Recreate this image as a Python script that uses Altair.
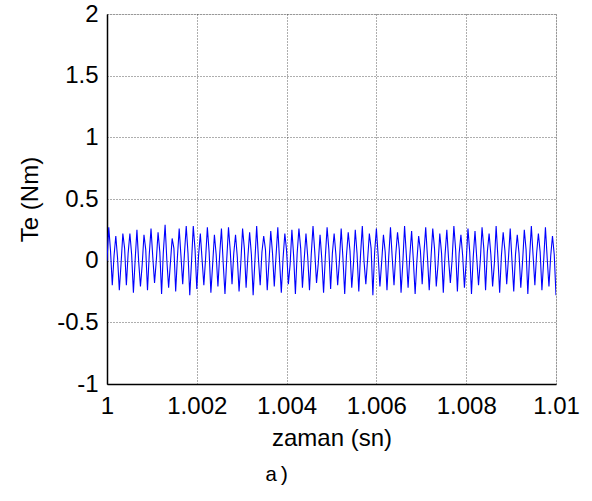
import altair as alt
import pandas as pd

# Values: one entry per oscillation cycle (64 cycles in 0.01 s)
peaks = [0.27, 0.20, 0.22, 0.22, 0.25, 0.21, 0.26, 0.23, 0.29, 0.18, 0.26, 0.28, 0.28, 0.22, 0.27, 0.21,
         0.26, 0.27, 0.21, 0.26, 0.23, 0.28, 0.20, 0.24, 0.27, 0.22, 0.25, 0.26, 0.22, 0.28, 0.21, 0.27,
         0.22, 0.26, 0.23, 0.25, 0.28, 0.22, 0.26, 0.21, 0.27, 0.23, 0.28, 0.24, 0.20, 0.27, 0.26, 0.22,
         0.25, 0.28, 0.21, 0.26, 0.24, 0.27, 0.22, 0.28, 0.23, 0.26, 0.21, 0.25, 0.28, 0.22, 0.27, 0.20]
troughs = [-0.20, -0.24, -0.20, -0.26, -0.21, -0.24, -0.18, -0.27, -0.22, -0.25, -0.19, -0.28, -0.23, -0.20, -0.26, -0.21,
           -0.27, -0.19, -0.25, -0.22, -0.28, -0.20, -0.24, -0.21, -0.26, -0.19, -0.27, -0.22, -0.24, -0.18, -0.26, -0.23,
           -0.20, -0.27, -0.22, -0.25, -0.19, -0.28, -0.21, -0.24, -0.20, -0.26, -0.22, -0.27, -0.19, -0.24, -0.21, -0.26,
           -0.18, -0.25, -0.22, -0.27, -0.20, -0.24, -0.21, -0.26, -0.19, -0.25, -0.22, -0.27, -0.20, -0.24, -0.21, -0.28]
rise_mid = [0.00, 0.04, -0.02, 0.06, 0.01, -0.03, 0.05, 0.00, 0.07, -0.02, 0.03, 0.06, -0.01, 0.04, 0.02, -0.03,
            0.05, 0.01, 0.06, -0.02, 0.03, 0.00, 0.07, -0.01, 0.04, 0.02, -0.03, 0.06, 0.01, 0.05, -0.02, 0.03,
            0.06, 0.00, 0.04, -0.02, 0.05, 0.01, 0.07, -0.01, 0.03, 0.05, -0.02, 0.04, 0.00, 0.06, 0.02, -0.03,
            0.05, 0.01, 0.06, -0.01, 0.03, 0.00, 0.07, -0.02, 0.04, 0.02, 0.05, -0.01, 0.03, 0.06, 0.00, 0.04]
fall_mid = [0.08, 0.02, 0.10, 0.05, -0.01, 0.09, 0.03, 0.07, 0.00, 0.10, 0.04, 0.06, 0.09, 0.01, 0.07, 0.05,
            -0.02, 0.08, 0.03, 0.10, 0.05, 0.02, 0.09, 0.06, 0.00, 0.08, 0.04, 0.10, 0.03, 0.07, 0.01, 0.09,
            0.05, 0.02, 0.08, 0.06, -0.01, 0.10, 0.04, 0.07, 0.02, 0.09, 0.05, 0.00, 0.08, 0.03, 0.10, 0.06,
            0.01, 0.09, 0.04, 0.07, 0.02, 0.10, 0.05, 0.03, 0.08, 0.00, 0.06, 0.09, 0.04, 0.07, 0.02, 0.05]

t_start = 1.0
t_end = 1.01

x_ticks = [1.0, 1.002, 1.004, 1.006, 1.008, 1.01]
y_ticks = [-1, -0.5, 0, 0.5, 1, 1.5, 2]

values = []
for a, b, c, d in zip(rise_mid, peaks, fall_mid, troughs):
    values.extend([a, b, c, d])
n = len(values)
dt = (t_end - t_start) / (n - 1)
df = pd.DataFrame({"t": [t_start + i * dt for i in range(n)], "Te": values})

common = dict(labelFontSize=24, titleFontSize=24, titleFontWeight="normal",
              labelFont="Liberation Sans", titleFont="Liberation Sans",
              labelColor="black", titleColor="black", ticks=False,
              domainColor="black", domainWidth=1.5,
              grid=True, gridColor="#333", gridDash=[1, 2], gridWidth=0.8,
              labelFlush=False, labelOverlap=False)

line = alt.Chart(df).mark_line(color="#0000ff", strokeWidth=1.1, clip=True).encode(
    x=alt.X("t:Q",
            scale=alt.Scale(domain=[t_start, t_end], nice=False, zero=False),
            axis=alt.Axis(values=x_ticks, title="zaman (sn)",
                          labelExpr="format(datum.value, '.3~f')",
                          labelPadding=10, titlePadding=8, **common)),
    y=alt.Y("Te:Q",
            scale=alt.Scale(domain=[-1, 2], nice=False, zero=False),
            axis=alt.Axis(values=y_ticks, title="Te (Nm)",
                          labelExpr="replace(format(datum.value, '~g'), '\u2212', '-')",
                          labelPadding=9, titlePadding=14, **common)),
)

chart = line.properties(
    width=449,
    height=370,
    autosize=alt.AutoSizeParams(type="none"),
    padding={"left": 107, "top": 14, "right": 36, "bottom": 117},
    title=alt.TitleParams("a)", orient="bottom", font="Liberation Mono", fontSize=21,
                          fontWeight="normal", color="black", dx=-54, offset=14),
).configure_view(stroke="black", strokeWidth=1.5).configure(background="white")

chart.save("out.html", embed_options={"renderer": "svg", "actions": False})
